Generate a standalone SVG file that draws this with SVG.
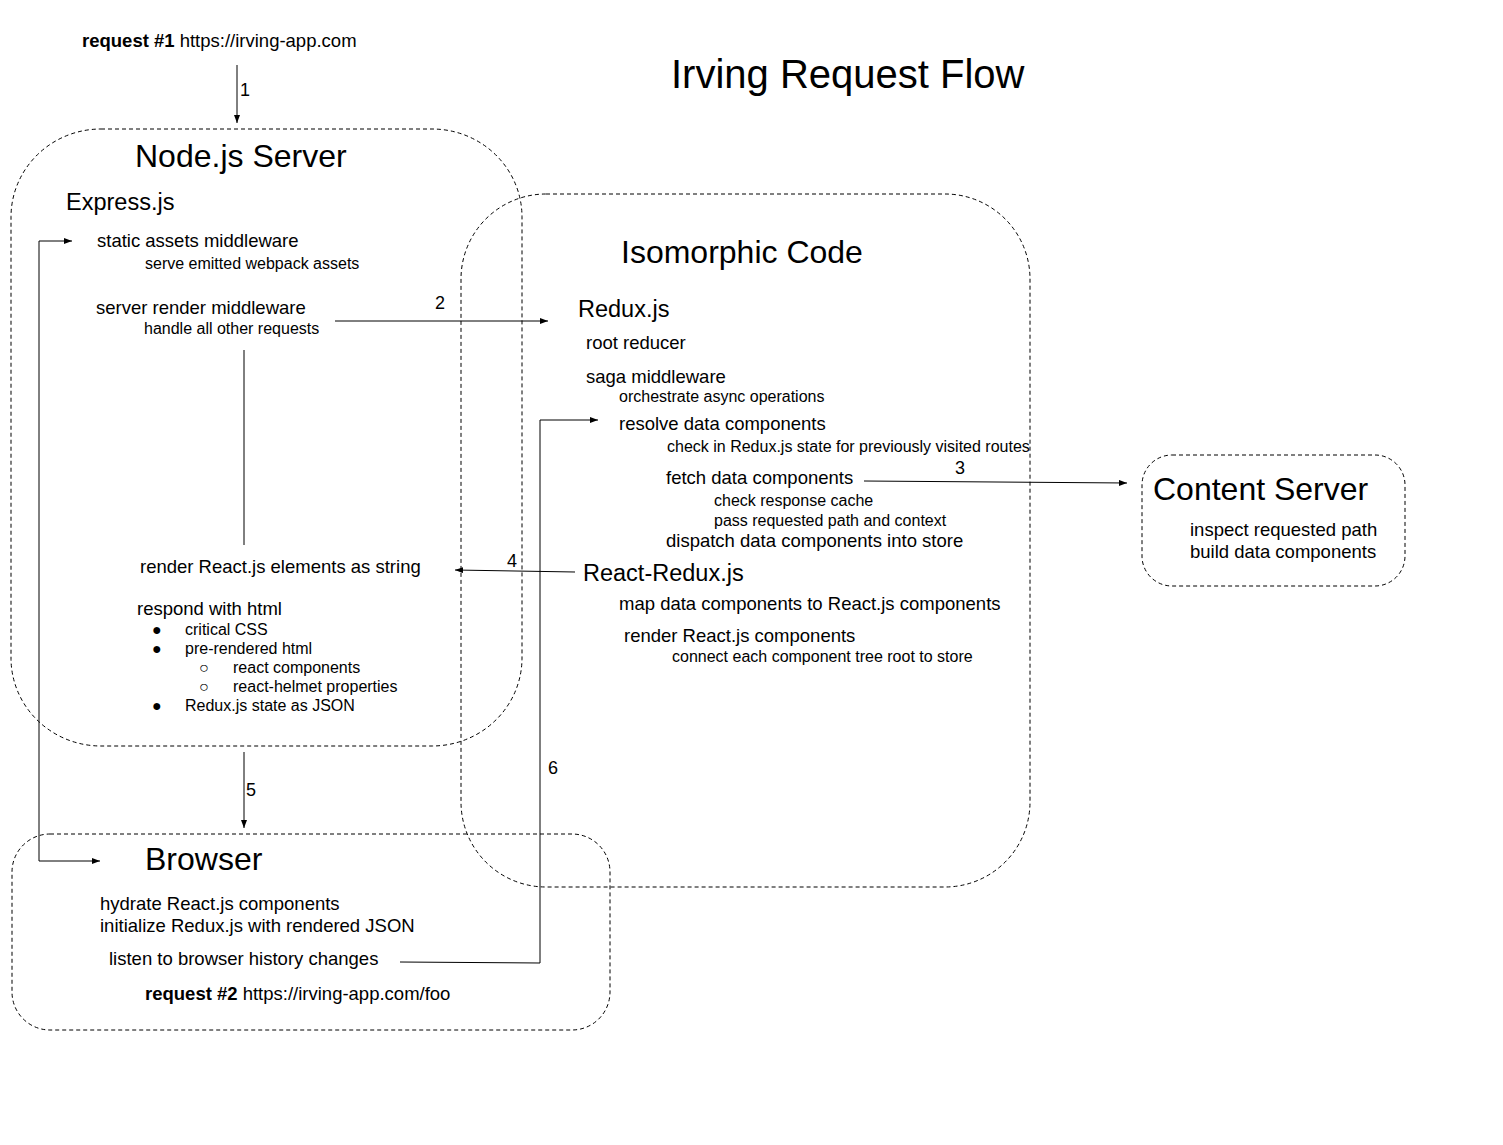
<svg xmlns="http://www.w3.org/2000/svg" width="1503" height="1145" viewBox="0 0 1503 1145">
<defs>
<style>
text{font-family:"Liberation Sans",Arial,sans-serif;fill:#000}
.t40{font-size:40px}
.t32{font-size:32px}
.t24{font-size:23.5px}
.t18{font-size:18.5px}
.t16{font-size:16px}
.lbl{font-size:18px}
.b{font-weight:bold}
.box{fill:none;stroke:#000;stroke-width:1;stroke-dasharray:4 3}
.c{fill:none;stroke:#000;stroke-width:1}
</style>
<marker id="ah" markerUnits="userSpaceOnUse" markerWidth="9" markerHeight="7" refX="8" refY="3" orient="auto-start-reverse">
<path d="M0,0 L8,3 L0,6 z" fill="#000"/>
</marker>
</defs>
<rect width="1503" height="1145" fill="#fff"/>

<text class="t40" x="671" y="88">Irving Request Flow</text>

<g id="request1">
<text class="t18" x="82" y="47"><tspan class="b">request #1</tspan> https://irving-app.com</text>
</g>

<g id="node-server">
<rect class="box" x="11" y="129" width="511" height="617" rx="90" ry="88"/>
<text class="t32" x="135" y="167">Node.js Server</text>
<text class="t24" x="66" y="210">Express.js</text>
<text class="t18" x="97" y="247">static assets middleware</text>
<text class="t16" x="145" y="269">serve emitted webpack assets</text>
<text class="t18" x="96" y="314">server render middleware</text>
<text class="t16" x="144" y="334">handle all other requests</text>
<text class="t18" x="140" y="573">render React.js elements as string</text>
<text class="t18" x="137" y="615">respond with html</text>
<text class="t16" x="152" y="635">●</text><text class="t16" x="185" y="635">critical CSS</text>
<text class="t16" x="152" y="654">●</text><text class="t16" x="185" y="654">pre-rendered html</text>
<text class="t16" x="199" y="673">○</text><text class="t16" x="233" y="673">react components</text>
<text class="t16" x="199" y="692">○</text><text class="t16" x="233" y="692">react-helmet properties</text>
<text class="t16" x="152" y="711">●</text><text class="t16" x="185" y="711">Redux.js state as JSON</text>
</g>

<g id="isomorphic-code">
<rect class="box" x="461" y="194" width="569" height="693" rx="85" ry="85"/>
<text class="t32" x="621" y="263">Isomorphic Code</text>
<text class="t24" x="578" y="317">Redux.js</text>
<text class="t18" x="586" y="349">root reducer</text>
<text class="t18" x="586" y="383">saga middleware</text>
<text class="t16" x="619" y="402">orchestrate async operations</text>
<text class="t18" x="619" y="430">resolve data components</text>
<text class="t16" x="667" y="452">check in Redux.js state for previously visited routes</text>
<text class="t18" x="666" y="484">fetch data components</text>
<text class="t16" x="714" y="506">check response cache</text>
<text class="t16" x="714" y="526">pass requested path and context</text>
<text class="t18" x="666" y="547">dispatch data components into store</text>
<text class="t24" x="583" y="581">React-Redux.js</text>
<text class="t18" x="619" y="610">map data components to React.js components</text>
<text class="t18" x="624" y="642">render React.js components</text>
<text class="t16" x="672" y="662">connect each component tree root to store</text>
</g>

<g id="content-server">
<rect class="box" x="1142" y="455" width="263" height="131" rx="30" ry="30"/>
<text class="t32" x="1153" y="500">Content Server</text>
<text class="t18" x="1190" y="536">inspect requested path</text>
<text class="t18" x="1190" y="558">build data components</text>
</g>

<g id="browser">
<rect class="box" x="12" y="834" width="598" height="196" rx="38" ry="38"/>
<text class="t32" x="145" y="870">Browser</text>
<text class="t18" x="100" y="910">hydrate React.js components</text>
<text class="t18" x="100" y="932">initialize Redux.js with rendered JSON</text>
<text class="t18" x="109" y="965">listen to browser history changes</text>
<text class="t18" x="145" y="1000"><tspan class="b">request #2</tspan> https://irving-app.com/foo</text>
</g>

<g id="connectors">
<path class="c" d="M237,65 L237,123" marker-end="url(#ah)"/>
<text class="lbl" x="240" y="96">1</text>
<path class="c" d="M335,321 L548,321" marker-end="url(#ah)"/>
<text class="lbl" x="435" y="309">2</text>
<path class="c" d="M244,350 L244,545"/>
<path class="c" d="M864,481 L1127,483" marker-end="url(#ah)"/>
<text class="lbl" x="955" y="474">3</text>
<path class="c" d="M575,572 L455,570" marker-end="url(#ah)"/>
<text class="lbl" x="507" y="567">4</text>
<path class="c" d="M244,752 L244,828" marker-end="url(#ah)"/>
<text class="lbl" x="246" y="796">5</text>
<path class="c" d="M400,962 L540,963 L540,420 L598,420" marker-end="url(#ah)"/>
<text class="lbl" x="548" y="774">6</text>
<path class="c" d="M100,861 L39,861 L39,241 L72,241" marker-start="url(#ah)" marker-end="url(#ah)"/>
</g>
</svg>
